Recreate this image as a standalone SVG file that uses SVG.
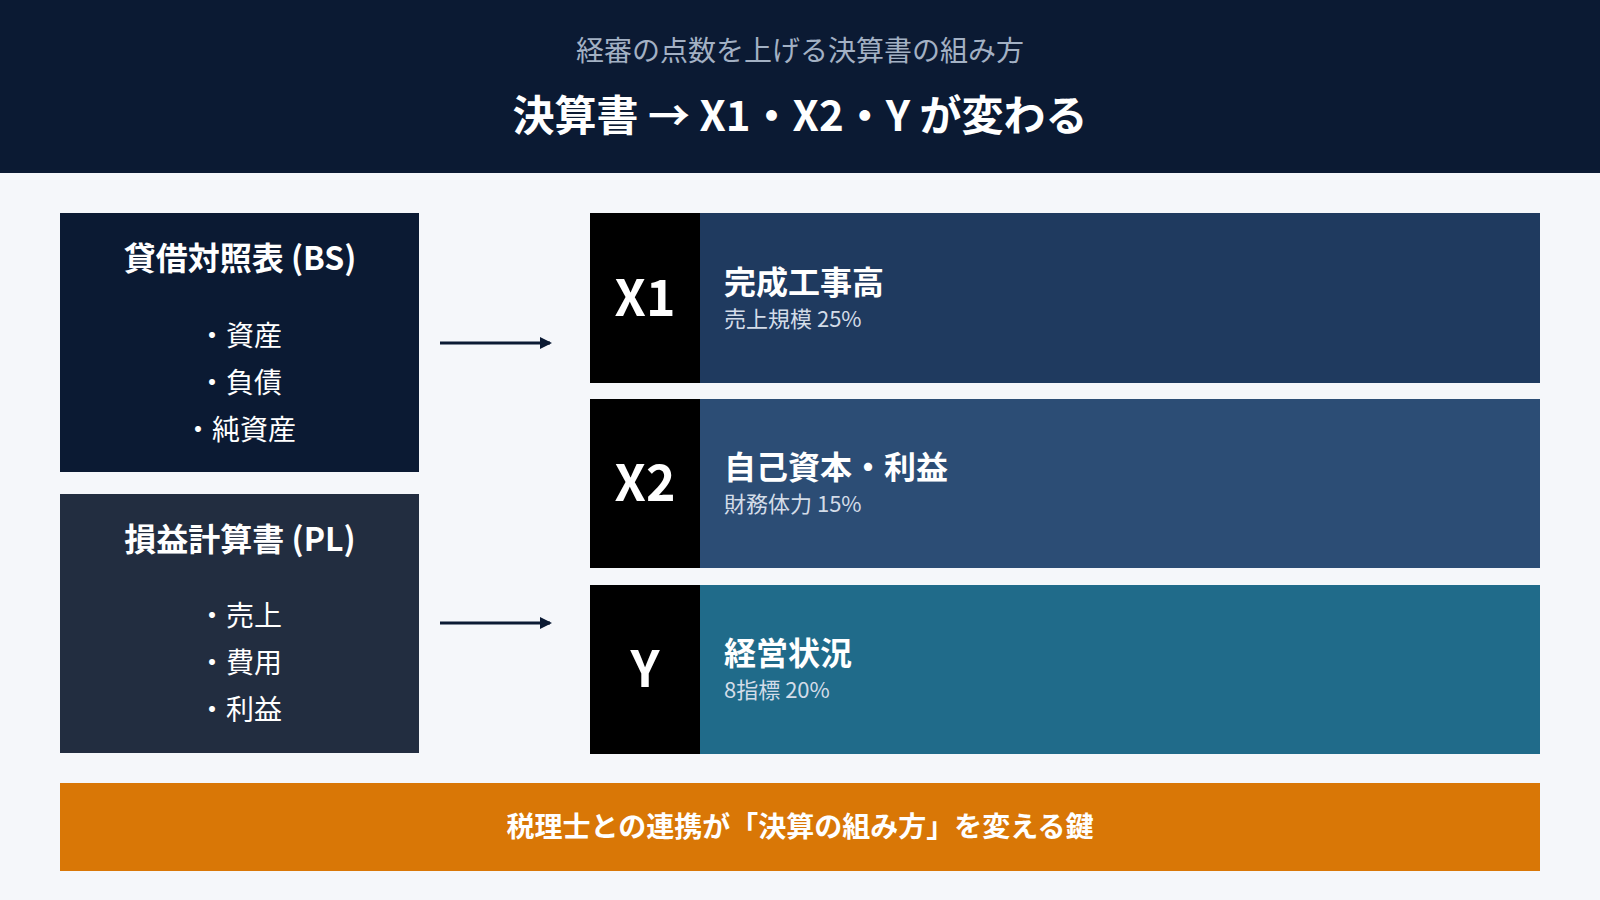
<svg xmlns="http://www.w3.org/2000/svg" width="1600" height="900" viewBox="0 0 1600 900">
<defs>
<style>
text{font-family:"Noto Sans CJK JP","Noto Sans",sans-serif;}
.w{fill:#fff}
.c{text-anchor:middle}
.bt{font-size:32px;font-weight:700}
.it{font-size:28px}
.lab{font-size:50px;font-weight:700;fill:#fff;text-anchor:middle}
.rt{font-size:32px;font-weight:700;fill:#fff}
.rs{font-size:22px;fill:#d3dce8}
</style>
<marker id="ah" markerWidth="12" markerHeight="12" refX="10" refY="6" orient="auto" markerUnits="userSpaceOnUse">
<path d="M0,0 L12,6 L0,12 Z" fill="#0b1a33"/>
</marker>
</defs>
<rect width="1600" height="900" fill="#f5f7fa"/>
<g id="header">
<rect width="1600" height="173" fill="#0b1a33"/>
<text x="800" y="61" class="c" font-size="28" fill="#a3b1c4">経審の点数を上げる決算書の組み方</text>
<text x="800" y="131" class="c w" font-size="42" font-weight="700">決算書 → X1・X2・Y が変わる</text>
</g>
<g id="bs">
<rect x="60" y="213" width="359" height="259" fill="#0b1a33"/>
<text x="240" y="270" class="c w bt">貸借対照表 (BS)</text>
<text x="240" y="346" class="c w it">・資産</text>
<text x="240" y="393" class="c w it">・負債</text>
<text x="240" y="440" class="c w it">・純資産</text>
</g>
<g id="pl">
<rect x="60" y="494" width="359" height="259" fill="#222d40"/>
<text x="240" y="551" class="c w bt">損益計算書 (PL)</text>
<text x="240" y="626" class="c w it">・売上</text>
<text x="240" y="673" class="c w it">・費用</text>
<text x="240" y="720" class="c w it">・利益</text>
</g>
<g id="connectors" stroke="#0b1a33" stroke-width="3">
<line x1="440" y1="343" x2="550" y2="343" marker-end="url(#ah)"/>
<line x1="440" y1="623" x2="550" y2="623" marker-end="url(#ah)"/>
</g>
<g id="x1">
<rect x="590" y="213" width="950" height="170" fill="#1f3a5f"/>
<rect x="590" y="213" width="110" height="170" fill="#000"/>
<text x="645" y="316" class="lab">X1</text>
<text x="724" y="294" class="rt">完成工事高</text>
<text x="724" y="327" class="rs">売上規模 25%</text>
</g>
<g id="x2">
<rect x="590" y="399" width="950" height="169" fill="#2c4d75"/>
<rect x="590" y="399" width="110" height="169" fill="#000"/>
<text x="645" y="501" class="lab">X2</text>
<text x="724" y="479" class="rt">自己資本・利益</text>
<text x="724" y="512" class="rs">財務体力 15%</text>
</g>
<g id="y">
<rect x="590" y="585" width="950" height="169" fill="#206b8a"/>
<rect x="590" y="585" width="110" height="169" fill="#000"/>
<text x="645" y="687" class="lab">Y</text>
<text x="724" y="665" class="rt">経営状況</text>
<text x="724" y="698" class="rs">8指標 20%</text>
</g>
<g id="footer">
<rect x="60" y="783" width="1480" height="88" fill="#d97706"/>
<text x="800" y="837" class="c w" font-size="28" font-weight="700">税理士との連携が「決算の組み方」を変える鍵</text>
</g>
</svg>
